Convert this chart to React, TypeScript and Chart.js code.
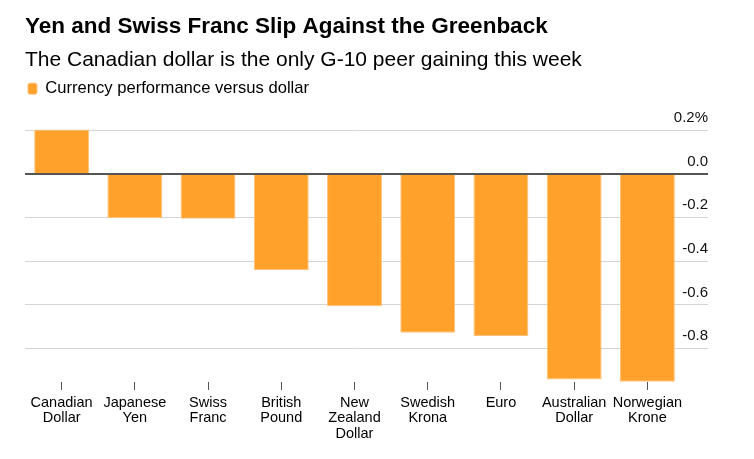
import React, { useEffect, useRef } from "react";
import { Chart, registerables, layouts } from "chart.js";

Chart.register(...registerables);

const titleText = "Yen and Swiss Franc Slip Against the Greenback";
const subtitleText = "The Canadian dollar is the only G-10 peer gaining this week";
const seriesLabel = "Currency performance versus dollar";

const categories: string[][] = [
  ["Canadian", "Dollar"],
  ["Japanese", "Yen"],
  ["Swiss", "Franc"],
  ["British", "Pound"],
  ["New", "Zealand", "Dollar"],
  ["Swedish", "Krona"],
  ["Euro"],
  ["Australian", "Dollar"],
  ["Norwegian", "Krone"],
];

const performance: number[] = [0.204, -0.202, -0.205, -0.44, -0.606, -0.728, -0.742, -0.942, -0.952];

const yTicks: number[] = [-0.8, -0.6, -0.4, -0.2, 0, 0.2];
const yMin = -0.953;
const yMax = 0.205;

const FONT = "'Liberation Sans', Arial, Helvetica, sans-serif";
const BAR_COLOR = "#FFA12B";
const LEGEND_GAP = 22.25;

// empty layout box that keeps a gap between the legend and the plot
const spacerPlugin = {
  id: "legendSpacer",
  beforeInit(chart: any) {
    const box: any = {
      position: "top",
      weight: 1,
      fullSize: true,
      options: { stackWeight: 1 },
      left: 0,
      top: 0,
      right: 0,
      bottom: 0,
      width: 0,
      height: 0,
      isHorizontal() {
        return true;
      },
      update(maxWidth: number) {
        this.width = maxWidth;
        this.height = LEGEND_GAP;
      },
      getPadding() {
        return { left: 0, top: 0, right: 0, bottom: 0 };
      },
      draw() {},
    };
    layouts.addBox(chart, box);
  },
};

export default function App() {
  const canvasRef = useRef<HTMLCanvasElement | null>(null);

  useEffect(() => {
    if (!canvasRef.current) return;
    const chart = new Chart(canvasRef.current, {
      type: "bar",
      data: {
        labels: categories,
        datasets: [
          {
            label: seriesLabel,
            data: performance,
            backgroundColor: BAR_COLOR,
            borderColor: "#FFC27A",
            borderWidth: 1,
            barPercentage: 0.75,
            categoryPercentage: 1,
          },
        ],
      },
      plugins: [spacerPlugin],
      options: {
        responsive: false,
        animation: false,
        layout: { padding: { top: 13, left: 25, right: 46, bottom: 12.5 } },
        plugins: {
          title: {
            display: true,
            text: titleText,
            align: "start",
            color: "#000",
            font: { family: FONT, size: 22.5, weight: "bold", lineHeight: 1.2 },
            padding: { top: 0, bottom: 7.4 },
          },
          subtitle: {
            display: true,
            text: subtitleText,
            align: "start",
            color: "#000",
            font: { family: FONT, size: 21, weight: "normal", lineHeight: 1.2 },
            padding: { top: 0, bottom: 4.75 },
          },
          legend: {
            display: true,
            position: "top",
            align: "start",
            labels: {
              color: "#000",
              font: { family: FONT, size: 16.6 },
              boxWidth: 9,
              boxHeight: 11,
              padding: 3,
              useBorderRadius: true,
              borderRadius: 2,
            },
          },
          tooltip: { enabled: false },
        },
        scales: {
          x: {
            type: "category",
            grid: {
              display: true,
              drawOnChartArea: false,
              drawTicks: true,
              tickLength: 8,
              offset: false,
              color: "#555",
              lineWidth: 1,
            },
            border: { display: false },
            ticks: {
              color: "#000",
              font: { family: FONT, size: 14.5, lineHeight: 1.07 },
              padding: 5,
              maxRotation: 0,
              autoSkip: false,
            },
          },
          y: {
            type: "linear",
            position: "right",
            min: yMin,
            max: yMax,
            afterBuildTicks: (axis: any) => {
              axis.ticks = yTicks.map((v) => ({ value: v }));
            },
            afterFit: (scale: any) => {
              scale.width = 24;
            },
            grid: {
              drawTicks: true,
              tickLength: 24,
              color: (ctx: any) => (ctx.tick && ctx.tick.value === 0 ? "#555" : "#d4d4d4"),
              lineWidth: (ctx: any) => (ctx.tick && ctx.tick.value === 0 ? 2 : 1),
            },
            border: { display: false },
            ticks: {
              mirror: true,
              crossAlign: "near",
              padding: 24,
              labelOffset: -12.5,
              color: "#111",
              font: { family: FONT, size: 15 },
              callback: (value: any, index: number, ticks: any[]) => {
                const s = Number(value).toFixed(1);
                return index === ticks.length - 1 ? s + "%" : s;
              },
            },
          },
        },
      } as any,
    });
    return () => chart.destroy();
  }, []);

  return (
    <div style={{ position: "absolute", left: 0, top: 0, width: 754, height: 459, background: "#fff" }}>
      <canvas ref={canvasRef} width={754} height={459} />
    </div>
  );
}
